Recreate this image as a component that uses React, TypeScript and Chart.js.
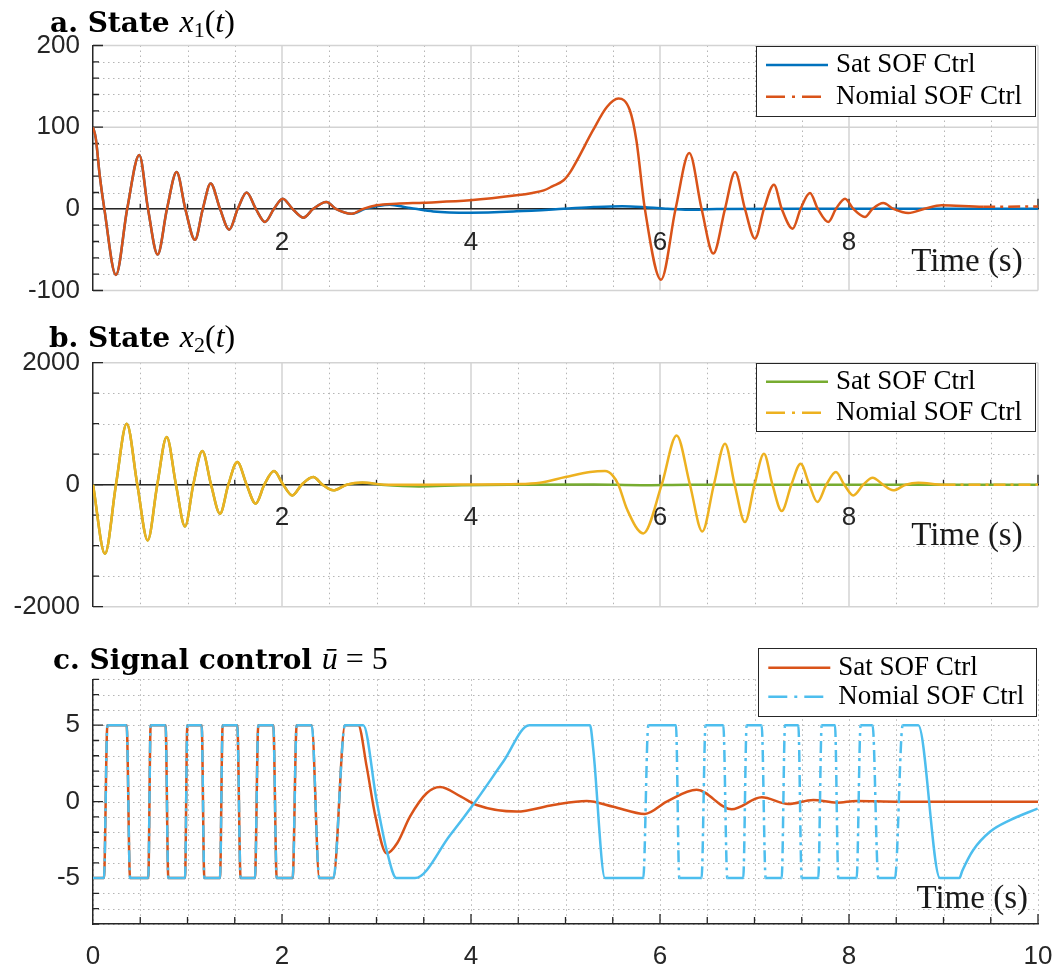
import React, { useEffect, useRef } from 'react';
import { Chart, registerables } from 'chart.js';

Chart.register(...registerables);

// ================= DATA =================
// Panel a: state x1(t) — common transient (both controllers identical)
const X1_EARLY_T = [0, 0.03, 0.07, 0.12, 0.243, 0.362, 0.49, 0.582, 0.684, 0.783, 0.885, 0.977, 1.079, 1.162, 1.245, 1.344, 1.442, 1.532, 1.626, 1.723, 1.82, 1.915, 2.007, 2.111, 2.226, 2.331, 2.47, 2.57, 2.737];
const X1_EARLY_V = [100, 86, 42, 0, -81, 0, 66, 0, -56, 0, 45, 0, -38, 0, 31, 0, -25.5, 0, 20, 0, -16, 0, 12.5, 0, -10.8, 0, 8.3, 0, -6];
const X1_SAT_TAIL_T = [2.88, 3.0, 3.14, 3.317, 3.41, 3.6, 3.99, 4.48, 4.98, 5.3, 5.6, 5.85, 6.08, 6.3, 6.6, 7.5, 10];
const X1_SAT_TAIL_V = [0, 3.1, 5.1, 1.8, 0, -3.2, -4.7, -3.1, 0, 2.2, 3.3, 2, 0, -1.2, -0.3, 0, 0];
const X1_NOM_TAIL_T = [2.86, 3.0, 3.21, 3.5, 3.99, 4.48, 4.65, 4.77, 4.86, 4.98, 5.05, 5.12, 5.29, 5.44, 5.56, 5.68, 5.75, 5.84, 6.011, 6.165, 6.31, 6.44, 6.564, 6.688, 6.794, 6.899, 7.005, 7.1, 7.206, 7.288, 7.404, 7.488, 7.587, 7.67, 7.781, 7.862, 7.958, 8.045, 8.169, 8.25, 8.363, 8.47, 8.628, 8.8, 8.98, 9.42, 10];
const X1_NOM_TAIL_V = [0, 4.3, 6.3, 7.6, 10.4, 16.5, 19.5, 22.6, 27.5, 35, 45, 59, 96, 125, 135, 121, 84, 0, -86.7, 0, 68.3, 0, -54.8, 0, 45, 0, -36.5, 0, 29.6, 0, -24.3, 0, 19.4, 0, -16.1, 0, 12.5, 0, -10, 0, 7.1, 0, -5.1, 0, 4.3, 2.5, 3];

// Panel b: state x2(t)
const X2_EARLY_T = [0, 0.127, 0.243, 0.357, 0.469, 0.579, 0.68, 0.78, 0.878, 0.974, 1.061, 1.157, 1.249, 1.344, 1.432, 1.527, 1.626, 1.721, 1.813, 1.915, 2.013, 2.109, 2.208, 2.331, 2.43, 2.543, 2.684];
const X2_EARLY_V = [0, -1131, 0, 1000, 0, -913, 0, 780, 0, -684, 0, 551, 0, -475, 0, 371, 0, -312, 0, 223, 0, -175, 0, 125, 0, -93, 0];
const X2_SAT_TAIL_T = [2.85, 3.05, 3.45, 3.9, 4.4, 5.3, 5.8, 6.3, 7.0, 10];
const X2_SAT_TAIL_V = [30, 0, -28, -10, 0, 5, -8, 0, 0, 0];
const X2_NOM_TAIL_T = [2.85, 3.1, 3.5, 4.0, 4.5, 4.73, 5.0, 5.26, 5.418, 5.5, 5.56, 5.65, 5.823, 6.018, 6.176, 6.317, 6.448, 6.57, 6.688, 6.79, 6.899, 7.0, 7.1, 7.19, 7.288, 7.39, 7.488, 7.58, 7.665, 7.76, 7.862, 7.95, 8.045, 8.15, 8.25, 8.36, 8.468, 8.6, 8.733, 9.0, 10];
const X2_NOM_TAIL_V = [35, 0, 0, 3, 10, 33, 125, 207, 223, 150, 0, -400, -798, 0, 808, 0, -766, 0, 672, 0, -613, 0, 508, 0, -432, 0, 344, 0, -285, 0, 207, 0, -175, 0, 115, 0, -93, 0, 33, 0, 0];

// Panel c: control signal
const U_EARLY_T = [0, 0.116, 0.152, 0.356, 0.392, 0.585, 0.61, 0.768, 0.797, 0.974, 0.998, 1.15, 1.178, 1.344, 1.372, 1.527, 1.562, 1.714, 1.749, 1.908, 1.944, 2.113, 2.155, 2.314, 2.395, 2.543, 2.667];
const U_EARLY_V = [-5, -5, 5, 5, -5, -5, 5, 5, -5, -5, 5, 5, -5, -5, 5, 5, -5, -5, 5, 5, -5, -5, 5, 5, -5, -5, 5];
const U_SAT_TAIL_T = [2.807, 2.896, 2.989, 3.107, 3.22, 3.354, 3.53, 3.672, 3.894, 4.06, 4.483, 4.871, 5.224, 5.506, 5.841, 6.071, 6.388, 6.758, 7.076, 7.358, 7.622, 7.87, 8.08, 8.5, 10];
const U_SAT_TAIL_V = [5, 2.29, -0.98, -3.38, -2.7, -0.98, 0.55, 0.96, 0.33, -0.22, -0.65, -0.22, 0.04, -0.33, -0.8, 0, 0.77, -0.5, 0.28, -0.15, 0.11, -0.07, 0.05, 0, 0];
const U_NOM_TAIL_T = [2.86, 3.0, 3.107, 3.212, 3.407, 3.778, 4.059, 4.342, 4.617, 5.259, 5.294, 5.418, 5.823, 5.876, 6.169, 6.204, 6.44, 6.482, 6.67, 6.712, 6.881, 6.917, 7.076, 7.118, 7.288, 7.323, 7.464, 7.499, 7.675, 7.711, 7.852, 7.887, 8.081, 8.123, 8.25, 8.31, 8.487, 8.568, 8.733, 8.963, 9.167, 9.2, 9.315, 9.492, 9.704, 9.996];
const U_NOM_TAIL_V = [5, 0.11, -3.16, -5, -5, -2.2, 0.11, 2.62, 5, 5, 3.4, -5, -5, 5, 5, -5, -5, 5, 5, -5, -5, 5, 5, -5, -5, 5, 5, -5, -5, 5, 5, -5, -5, 5, 5, -5, -5, 5, 5, -5, -5, -4.5, -3.16, -1.97, -1.21, -0.45];

// Tick labels
const X_TICKS_INNER = [2, 4, 6, 8];
const X_TICKS_BOTTOM = [0, 2, 4, 6, 8, 10];
const Y_TICKS_A = [-100, 0, 100, 200];
const Y_TICKS_B = [-2000, 0, 2000];
const Y_TICKS_C = [-5, 0, 5];
const LEGEND_LABELS = ['Sat SOF Ctrl', 'Nomial SOF Ctrl'];
const TIME_LABEL = 'Time (s)';

// ================= STYLE =================
const FONT_SANS = "'Liberation Sans', Arial, Helvetica, sans-serif";
const FONT_SERIF = "'Liberation Serif', 'Times New Roman', serif";
const FONT_BOLD = "'DejaVu Serif', serif";
const C_BLUE = '#0072BD';
const C_ORANGE = '#D95319';
const C_YELLOW = '#EDB120';
const C_GREEN = '#77AC30';
const C_CYAN = '#4DBEEE';
const AXIS = '#262626';
const DATA_DASH = [12, 5, 3, 5];
const LEGEND_DASH = [19, 7, 3, 7];
const TICK_FONT_SIZE = 26;

const pts = (t: number[], v: number[]) => t.map((x, i) => ({ x, y: v[i] }));

type Run = { text: string; font: string; dy?: number };

type PanelCfg = {
  height: number;
  top: number;
  padding: { top: number; right: number; bottom: number; left: number };
  yMin: number;
  yMax: number;
  yTicks: number[];
  yMinorStep: number;
  yMajorStep: number;
  xTicks: number[];
  xAtZero: boolean;
  xLabelPad: number;
  majorGrid: boolean;
  sat: { t: number[]; v: number[]; color: string };
  nom: { t: number[]; v: number[]; color: string };
  dashMode: 'long' | 'steep';
  title: Run[];
  titleX: number;
  titleY: number;
  timeRight: number;
  timeBase: number;
  legend: { left: number; top: number; w: number; h: number; rows: number[] };
};

const BOLD = `bold 28px ${FONT_BOLD}`;
const MATH_I = `italic 32px ${FONT_SERIF}`;
const MATH_R = `32px ${FONT_SERIF}`;
const MATH_SUB = `22px ${FONT_SERIF}`;

const PANELS: PanelCfg[] = [
  {
    height: 320,
    top: 0,
    padding: { top: 45.5, right: 17, bottom: 29.5, left: 0 },
    yMin: -100,
    yMax: 200,
    yTicks: Y_TICKS_A,
    yMinorStep: 20,
    yMajorStep: 100,
    xTicks: X_TICKS_INNER,
    xAtZero: true,
    xLabelPad: 18,
    majorGrid: true,
    sat: { t: [...X1_EARLY_T, ...X1_SAT_TAIL_T], v: [...X1_EARLY_V, ...X1_SAT_TAIL_V], color: C_BLUE },
    nom: { t: [...X1_EARLY_T, ...X1_NOM_TAIL_T], v: [...X1_EARLY_V, ...X1_NOM_TAIL_V], color: C_ORANGE },
    dashMode: 'long',
    title: [
      { text: 'a. State ', font: BOLD },
      { text: 'x', font: MATH_I },
      { text: '1', font: MATH_SUB, dy: 5 },
      { text: '(', font: MATH_R },
      { text: 't', font: MATH_I },
      { text: ')', font: MATH_R },
    ],
    titleX: 50,
    titleY: 32,
    timeRight: 1022.7,
    timeBase: 270.7,
    legend: { left: 756, top: 45.7, w: 280, h: 71, rows: [19.3, 51] },
  },
  {
    height: 320,
    top: 320,
    padding: { top: 42.7, right: 17, bottom: 33.3, left: 0 },
    yMin: -2000,
    yMax: 2000,
    yTicks: Y_TICKS_B,
    yMinorStep: 500,
    yMajorStep: 2000,
    xTicks: X_TICKS_INNER,
    xAtZero: true,
    xLabelPad: 18,
    majorGrid: true,
    sat: { t: [...X2_EARLY_T, ...X2_SAT_TAIL_T], v: [...X2_EARLY_V, ...X2_SAT_TAIL_V], color: C_GREEN },
    nom: { t: [...X2_EARLY_T, ...X2_NOM_TAIL_T], v: [...X2_EARLY_V, ...X2_NOM_TAIL_V], color: C_YELLOW },
    dashMode: 'long',
    title: [
      { text: 'b. State ', font: BOLD },
      { text: 'x', font: MATH_I },
      { text: '2', font: MATH_SUB, dy: 5 },
      { text: '(', font: MATH_R },
      { text: 't', font: MATH_I },
      { text: ')', font: MATH_R },
    ],
    titleX: 49,
    titleY: 27.3,
    timeRight: 1022.7,
    timeBase: 225,
    legend: { left: 756, top: 42.7, w: 280, h: 69, rows: [19, 50] },
  },
  {
    height: 329,
    top: 640,
    padding: { top: 39.3, right: 17, bottom: 0, left: 0 },
    yMin: -8,
    yMax: 8,
    yTicks: Y_TICKS_C,
    yMinorStep: 1,
    yMajorStep: 5,
    xTicks: X_TICKS_BOTTOM,
    xAtZero: false,
    xLabelPad: 17,
    majorGrid: false,
    sat: { t: [...U_EARLY_T, ...U_SAT_TAIL_T], v: [...U_EARLY_V, ...U_SAT_TAIL_V], color: C_ORANGE },
    nom: { t: [...U_EARLY_T, ...U_NOM_TAIL_T], v: [...U_EARLY_V, ...U_NOM_TAIL_V], color: C_CYAN },
    dashMode: 'steep',
    title: [
      { text: 'c. Signal control ', font: BOLD },
      { text: 'ū', font: MATH_I },
      { text: ' = 5', font: MATH_R },
    ],
    titleX: 53,
    titleY: 29.3,
    timeRight: 1028,
    timeBase: 268,
    legend: { left: 758.3, top: 8.3, w: 279.4, h: 69, rows: [19.4, 48.4] },
  },
];

function steps(min: number, max: number, step: number): number[] {
  const n = Math.round((max - min) / step);
  const out: number[] = [];
  for (let i = 0; i <= n; i++) out.push(min + i * step);
  return out;
}
const isMult = (v: number, s: number) => Math.abs(v / s - Math.round(v / s)) < 1e-6;

function makeDecor(p: PanelCfg) {
  return {
    id: 'decor',
    beforeDraw(chart: any) {
      const ctx: CanvasRenderingContext2D = chart.ctx;
      const xs = chart.scales.x;
      const ys = chart.scales.y;
      const ca = chart.chartArea;
      const xVals = steps(0, 10, 0.5);
      const yVals = steps(p.yMin, p.yMax, p.yMinorStep);
      ctx.save();
      // minor dotted grid
      ctx.strokeStyle = '#b5b5b5';
      ctx.lineWidth = 1;
      ctx.setLineDash([1.5, 3.5]);
      ctx.beginPath();
      for (const v of xVals) {
        if (p.majorGrid && isMult(v, 2)) continue;
        const px = Math.round(xs.getPixelForValue(v)) + 0.5;
        ctx.moveTo(px, ca.top);
        ctx.lineTo(px, ca.bottom);
      }
      for (const v of yVals) {
        if (p.majorGrid && isMult(v, p.yMajorStep)) continue;
        const py = Math.round(ys.getPixelForValue(v)) + 0.5;
        ctx.moveTo(ca.left, py);
        ctx.lineTo(ca.right, py);
      }
      ctx.stroke();
      // major solid grid
      if (p.majorGrid) {
        ctx.setLineDash([]);
        ctx.strokeStyle = '#d3d3d3';
        ctx.lineWidth = 1.5;
        ctx.beginPath();
        for (const v of xVals) {
          if (!isMult(v, 2) || v === 0) continue;
          const px = xs.getPixelForValue(v);
          ctx.moveTo(px, ca.top);
          ctx.lineTo(px, ca.bottom);
        }
        for (const v of yVals) {
          if (!isMult(v, p.yMajorStep)) continue;
          const py = ys.getPixelForValue(v);
          ctx.moveTo(ca.left, py);
          ctx.lineTo(ca.right, py);
        }
        ctx.stroke();
      }
      // tick marks (inward)
      ctx.setLineDash([]);
      ctx.strokeStyle = AXIS;
      ctx.lineWidth = 1.3;
      ctx.beginPath();
      for (const v of yVals) {
        const py = ys.getPixelForValue(v);
        const len = isMult(v, p.yMajorStep) ? 10 : 6;
        ctx.moveTo(ca.left, py);
        ctx.lineTo(ca.left + len, py);
      }
      const baseY = p.xAtZero ? ys.getPixelForValue(0) : ca.bottom;
      for (const v of xVals) {
        if (v === 0) continue;
        const px = xs.getPixelForValue(v);
        const len = isMult(v, 2) ? 10 : p.xAtZero ? 5 : 7;
        ctx.moveTo(px, baseY);
        ctx.lineTo(px, baseY - len);
      }
      ctx.stroke();
      ctx.restore();
    },
    afterDraw(chart: any) {
      const ctx: CanvasRenderingContext2D = chart.ctx;
      ctx.save();
      // title
      ctx.fillStyle = '#000';
      ctx.textAlign = 'left';
      ctx.textBaseline = 'alphabetic';
      let cx = p.titleX;
      for (const r of p.title) {
        ctx.font = r.font;
        ctx.fillText(r.text, cx, p.titleY + (r.dy || 0));
        cx += ctx.measureText(r.text).width;
      }
      // time label
      ctx.font = `33px ${FONT_SERIF}`;
      ctx.fillStyle = '#1a1a1a';
      ctx.textAlign = 'right';
      ctx.fillText(TIME_LABEL, p.timeRight, p.timeBase);
      // legend
      const L = p.legend;
      ctx.fillStyle = '#fff';
      ctx.fillRect(L.left, L.top, L.w, L.h);
      ctx.strokeStyle = AXIS;
      ctx.lineWidth = 1;
      ctx.strokeRect(Math.round(L.left) + 0.5, Math.round(L.top) + 0.5, Math.round(L.w) - 1, Math.round(L.h) - 1);
      const items = [
        { label: LEGEND_LABELS[0], color: p.sat.color, dash: [] as number[] },
        { label: LEGEND_LABELS[1], color: p.nom.color, dash: LEGEND_DASH },
      ];
      items.forEach((it, i) => {
        const y = L.top + L.rows[i];
        ctx.strokeStyle = it.color;
        ctx.lineWidth = 2.5;
        ctx.setLineDash(it.dash);
        ctx.beginPath();
        ctx.moveTo(L.left + 10, y);
        ctx.lineTo(L.left + 72, y);
        ctx.stroke();
        ctx.setLineDash([]);
        ctx.fillStyle = '#000';
        ctx.font = `27px ${FONT_SERIF}`;
        ctx.textAlign = 'left';
        ctx.fillText(it.label, L.left + 80, y + 7);
      });
      ctx.restore();
    },
  };
}

function Panel({ cfg }: { cfg: PanelCfg }) {
  const ref = useRef<HTMLCanvasElement>(null);
  useEffect(() => {
    const dashed = (c: any) => {
      const dx = Math.abs(c.p1.x - c.p0.x);
      const dy = Math.abs(c.p1.y - c.p0.y);
      return cfg.dashMode === 'long' ? dx > 50 : dy > 12 * dx;
    };
    const chart = new Chart(ref.current as HTMLCanvasElement, {
      type: 'line',
      data: {
        datasets: [
          {
            label: LEGEND_LABELS[0],
            data: pts(cfg.sat.t, cfg.sat.v),
            borderColor: cfg.sat.color,
            backgroundColor: cfg.sat.color,
            borderWidth: 2.5,
            pointRadius: 0,
            fill: false,
            cubicInterpolationMode: 'monotone',
            order: 1,
          },
          {
            label: LEGEND_LABELS[1],
            data: pts(cfg.nom.t, cfg.nom.v),
            borderColor: cfg.nom.color,
            backgroundColor: cfg.nom.color,
            borderWidth: 2.5,
            pointRadius: 0,
            fill: false,
            cubicInterpolationMode: 'monotone',
            order: 0,
            segment: { borderDash: (c: any) => (dashed(c) ? DATA_DASH : undefined) },
          },
        ] as any,
      },
      options: {
        responsive: false,
        maintainAspectRatio: false,
        animation: false,
        devicePixelRatio: 1,
        events: [],
        layout: { padding: cfg.padding },
        plugins: { legend: { display: false }, tooltip: { enabled: false }, title: { display: false } },
        scales: {
          x: {
            type: 'linear',
            min: 0,
            max: 10,
            position: (cfg.xAtZero ? { y: 0 } : 'bottom') as any,
            grid: { display: true, color: 'rgba(0,0,0,0)', drawTicks: false, lineWidth: 1 },
            border: { display: true, color: AXIS, width: 1.5 },
            ticks: {
              font: { family: FONT_SANS, size: TICK_FONT_SIZE },
              color: AXIS,
              padding: cfg.xLabelPad,
              maxRotation: 0,
              autoSkip: false,
              callback: (v: any) => String(v),
            },
            afterBuildTicks: (s: any) => {
              s.ticks = cfg.xTicks.map((value) => ({ value }));
            },
            afterFit: (s: any) => {
              s.paddingLeft = 0;
              s.paddingRight = 0;
              if (!cfg.xAtZero) s.height = 45;
            },
          },
          y: {
            type: 'linear',
            min: cfg.yMin,
            max: cfg.yMax,
            position: 'left',
            grid: { display: true, color: 'rgba(0,0,0,0)', drawTicks: false, lineWidth: 1 },
            border: { display: true, color: AXIS, width: 1.5 },
            ticks: {
              font: { family: FONT_SANS, size: TICK_FONT_SIZE },
              color: AXIS,
              padding: 13,
              autoSkip: false,
              callback: (v: any) => String(v),
            },
            afterBuildTicks: (s: any) => {
              s.ticks = cfg.yTicks.map((value) => ({ value }));
            },
            afterFit: (s: any) => {
              s.width = 93;
              s.paddingTop = 0;
              s.paddingBottom = 0;
            },
          },
        },
      } as any,
      plugins: [makeDecor(cfg)],
    });
    return () => chart.destroy();
  }, [cfg]);
  return (
    <canvas
      ref={ref}
      width={1055}
      height={cfg.height}
      style={{ position: 'absolute', left: 0, top: cfg.top, width: 1055, height: cfg.height, display: 'block' }}
    />
  );
}

export default function App() {
  return (
    <div style={{ position: 'absolute', left: 0, top: 0, width: 1055, height: 969, background: '#fff', overflow: 'hidden' }}>
      {PANELS.map((cfg, i) => (
        <Panel key={i} cfg={cfg} />
      ))}
    </div>
  );
}
